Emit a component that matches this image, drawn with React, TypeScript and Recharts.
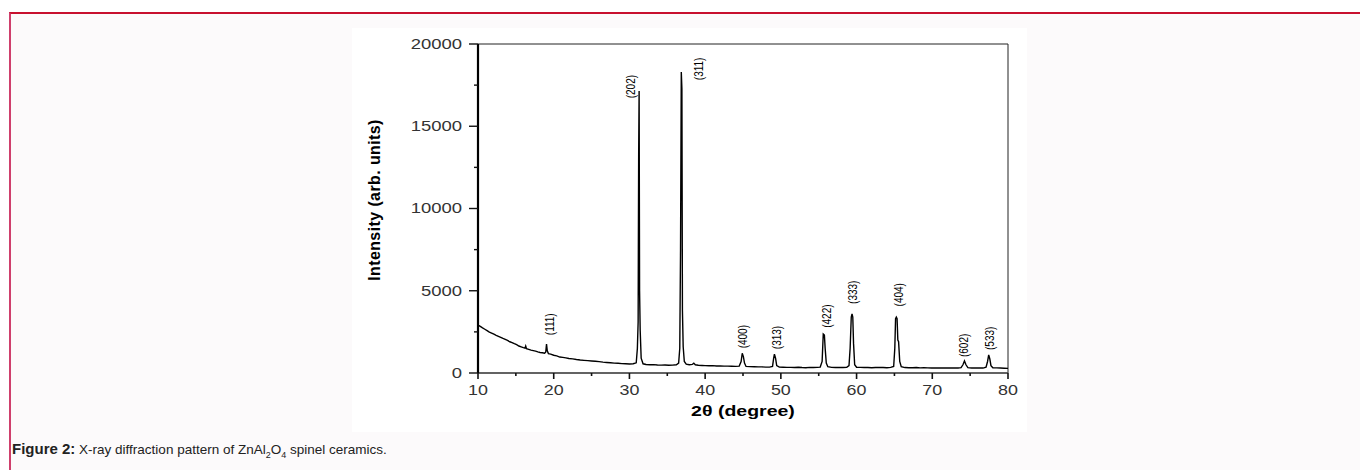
import React from "react";
import {
  ComposedChart,
  Line,
  Scatter,
  XAxis,
  YAxis,
  ReferenceArea,
} from "recharts";

// 2θ (deg), intensity (arb. units)
const scan: [number, number][] = [
  [10.0, 2920], [10.3, 2830], [10.6, 2740], [10.9, 2660], [11.2, 2580], [11.5, 2490],
  [11.8, 2430], [12.1, 2360], [12.4, 2290], [12.7, 2230], [13.0, 2170], [13.3, 2100],
  [13.6, 2040], [13.9, 1980], [14.2, 1900], [14.5, 1850], [14.8, 1780], [15.1, 1720],
  [15.4, 1640], [15.7, 1590], [16.0, 1540], [16.2, 1510], [16.3, 1640], [16.4, 1480],
  [16.7, 1440], [17.0, 1390], [17.3, 1360], [17.6, 1330], [17.9, 1280], [18.2, 1250],
  [18.5, 1230], [18.8, 1200], [18.95, 1280], [19.05, 1760], [19.15, 1350], [19.3, 1180],
  [19.6, 1150], [20.0, 1080], [20.4, 1040], [20.8, 970], [21.2, 950], [21.6, 920],
  [22.0, 880], [22.5, 860], [23.0, 820], [23.5, 790], [24.0, 770], [24.5, 750],
  [25.0, 730], [25.5, 710], [26.0, 690], [26.5, 660], [27.0, 640], [27.5, 620],
  [28.0, 600], [28.5, 590], [29.0, 570], [29.5, 560], [30.0, 550], [30.5, 560],
  [30.9, 620], [31.05, 1500], [31.15, 3100], [31.22, 13300], [31.28, 17150], [31.34, 5000],
  [31.42, 2600], [31.55, 900], [31.8, 560], [32.2, 520], [32.7, 500], [33.2, 510],
  [33.7, 490], [34.2, 480], [34.7, 490], [35.2, 470], [35.7, 480], [36.2, 500],
  [36.5, 600], [36.65, 1500], [36.75, 7500], [36.85, 18300], [36.93, 17300], [37.0, 3800],
  [37.1, 1600], [37.25, 700], [37.5, 540], [37.9, 500], [38.3, 520], [38.5, 600],
  [38.7, 500], [39.1, 470], [39.6, 460], [40.0, 450], [40.5, 440], [41.0, 450],
  [41.5, 430], [42.0, 430], [42.5, 420], [43.0, 420], [43.5, 410], [44.0, 400],
  [44.5, 420], [44.75, 700], [44.9, 1200], [45.05, 1000], [45.2, 600], [45.4, 400],
  [45.9, 390], [46.5, 380], [47.0, 370], [47.5, 370], [48.0, 360], [48.5, 360],
  [48.9, 400], [49.05, 900], [49.15, 1150], [49.3, 900], [49.45, 450], [49.8, 360],
  [50.3, 350], [50.8, 340], [51.3, 340], [51.8, 330], [52.3, 350], [52.8, 330],
  [53.3, 320], [53.8, 340], [54.3, 330], [54.8, 340], [55.2, 360], [55.45, 700],
  [55.6, 2370], [55.75, 2300], [55.85, 1500], [56.0, 600], [56.2, 380], [56.7, 340],
  [57.2, 330], [57.7, 340], [58.2, 330], [58.7, 350], [59.0, 450], [59.15, 1500],
  [59.3, 3400], [59.4, 3590], [59.5, 3400], [59.6, 1800], [59.75, 500], [60.0, 350],
  [60.5, 340], [61.0, 330], [61.5, 330], [62.0, 320], [62.5, 330], [63.0, 340],
  [63.5, 330], [64.0, 320], [64.5, 340], [64.9, 400], [65.05, 1500], [65.15, 3300],
  [65.25, 3400], [65.35, 3300], [65.45, 2000], [65.55, 1900], [65.7, 700], [65.9, 380],
  [66.4, 330], [66.9, 320], [67.4, 320], [67.9, 330], [68.4, 310], [68.9, 320],
  [69.4, 310], [69.9, 300], [70.4, 310], [70.9, 300], [71.4, 310], [71.9, 300],
  [72.4, 300], [72.9, 310], [73.4, 300], [73.8, 330], [74.05, 500], [74.25, 730],
  [74.45, 500], [74.7, 330], [75.2, 300], [75.7, 300], [76.2, 310], [76.7, 300],
  [77.1, 350], [77.3, 700], [77.45, 1100], [77.6, 850], [77.75, 450], [78.0, 320],
  [78.5, 310], [79.0, 300], [79.5, 290], [80.0, 280],
];

// peak labels and where they sit (2θ, intensity)
const hklLabels = ["(111)", "(202)", "(311)", "(400)", "(313)", "(422)", "(333)", "(404)", "(602)", "(533)"];
const labelTheta = [19.5, 30.1, 39.1, 45.0, 49.5, 56.0, 59.5, 65.6, 74.1, 77.6];
const labelCounts = [2300, 16700, 17800, 1500, 1450, 2750, 4200, 4050, 970, 1400];

const xTicks = [10, 15, 20, 25, 30, 35, 40, 45, 50, 55, 60, 65, 70, 75, 80];
const xLabelTicks = [10, 20, 30, 40, 50, 60, 70, 80];
const yTicks = [0, 2500, 5000, 7500, 10000, 12500, 15000, 17500, 20000];
const yLabelTicks = [0, 5000, 10000, 15000, 20000];

const lineData = scan.map(([x, y]) => ({ x, y }));
const labelData = hklLabels.map((hkl, i) => ({ x: labelTheta[i], y: labelCounts[i], hkl }));

const FONT = "'Liberation Sans', Arial, sans-serif";
const X_TICK = 6;
const X_GAP = 6;
const Y_TICK = 9;
const Y_GAP = 7;

function XTick(props: any) {
  const { x, y, payload } = props;
  const axisY = y - X_TICK - X_GAP;
  const major = xLabelTicks.includes(payload.value);
  return (
    <g>
      <line x1={x} x2={x} y1={axisY} y2={axisY + (major ? X_TICK : 3)} stroke="#111" strokeWidth={1.6} />
      {major && (
        <text
          transform={`translate(${x},${y}) scale(1.28,1)`}
          textAnchor="middle"
          dy="0.71em"
          fontSize={14}
          fontFamily={FONT}
          fill="#333"
        >
          {payload.value}
        </text>
      )}
    </g>
  );
}

function YTick(props: any) {
  const { x, y, payload } = props;
  const axisX = x + Y_TICK + Y_GAP;
  const major = yLabelTicks.includes(payload.value);
  return (
    <g>
      <line x1={axisX} x2={axisX - (major ? Y_TICK : 4)} y1={y} y2={y} stroke="#111" strokeWidth={1.4} />
      {major && (
        <text
          transform={`translate(${x},${y}) scale(1.32,1)`}
          textAnchor="end"
          dy="0.355em"
          fontSize={14}
          fontFamily={FONT}
          fill="#333"
        >
          {payload.value}
        </text>
      )}
    </g>
  );
}

function HklLabel(props: any) {
  const { cx, cy, payload } = props;
  return (
    <text
      transform={`translate(${cx},${cy}) rotate(-90) scale(1,1.25)`}
      textAnchor="start"
      dy="0.35em"
      fontSize={10}
      fontFamily={FONT}
      fill="#000"
    >
      {payload.hkl}
    </text>
  );
}

export default function App() {
  return (
    <div style={{ position: "absolute", left: 0, top: 0, width: 1360, height: 470, overflow: "hidden", background: "#fff" }}>
      <div
        style={{
          position: "absolute",
          left: 9,
          top: 12,
          width: 1360,
          height: 470,
          background: "#fcfafb",
          borderTop: "2px solid #c8102e",
          borderLeft: "2px solid #cf3f6c",
        }}
      />
      <div style={{ position: "absolute", left: 352, top: 28, width: 675, height: 404, background: "#fff" }}>
        <ComposedChart width={675} height={404} margin={{ top: 16, right: 19, left: 66, bottom: 29 }}>
          <ReferenceArea x1={10} x2={80} y1={0} y2={20000} fill="none" stroke="#222" strokeWidth={1} ifOverflow="visible" />
          <XAxis
            dataKey="x"
            type="number"
            domain={[10, 80]}
            ticks={xTicks}
            interval={0}
            height={30}
            tickSize={X_TICK}
            tickMargin={X_GAP}
            tickLine={false}
            tick={<XTick />}
            axisLine={{ stroke: "#555", strokeWidth: 1.5 }}
            allowDataOverflow
          />
          <YAxis
            dataKey="y"
            type="number"
            domain={[0, 20000]}
            ticks={yTicks}
            interval={0}
            width={60}
            tickSize={Y_TICK}
            tickMargin={Y_GAP}
            tickLine={false}
            tick={<YTick />}
            axisLine={{ stroke: "#000", strokeWidth: 2.2 }}
            allowDataOverflow
          />
          <Line
            data={lineData}
            dataKey="y"
            type="linear"
            stroke="#000"
            strokeWidth={1.4}
            dot={false}
            activeDot={false}
            isAnimationActive={false}
          />
          <Scatter data={labelData} dataKey="y" shape={<HklLabel />} isAnimationActive={false} />
        </ComposedChart>
      </div>
      <div
        style={{
          position: "absolute",
          left: 375,
          top: 200,
          transform: "translate(-50%, -50%) rotate(-90deg)",
          whiteSpace: "nowrap",
          fontFamily: FONT,
          fontWeight: "bold",
          fontSize: 16,
          letterSpacing: 0.4,
          color: "#000",
        }}
      >
        Intensity (arb. units)
      </div>
      <div
        style={{
          position: "absolute",
          left: 743,
          top: 410,
          transform: "translate(-50%, -50%) scaleX(1.3)",
          whiteSpace: "nowrap",
          fontFamily: FONT,
          fontWeight: "bold",
          fontSize: 15,
          color: "#000",
        }}
      >
        2θ (degree)
      </div>
      <div
        style={{
          position: "absolute",
          left: 12,
          top: 440,
          whiteSpace: "nowrap",
          fontFamily: FONT,
          fontSize: 13.5,
          color: "#222",
        }}
      >
        <b style={{ fontSize: 15 }}>Figure 2:</b> X-ray diffraction pattern of ZnAl<sub style={{ fontSize: 9 }}>2</sub>O
        <sub style={{ fontSize: 9 }}>4</sub> spinel ceramics.
      </div>
    </div>
  );
}
